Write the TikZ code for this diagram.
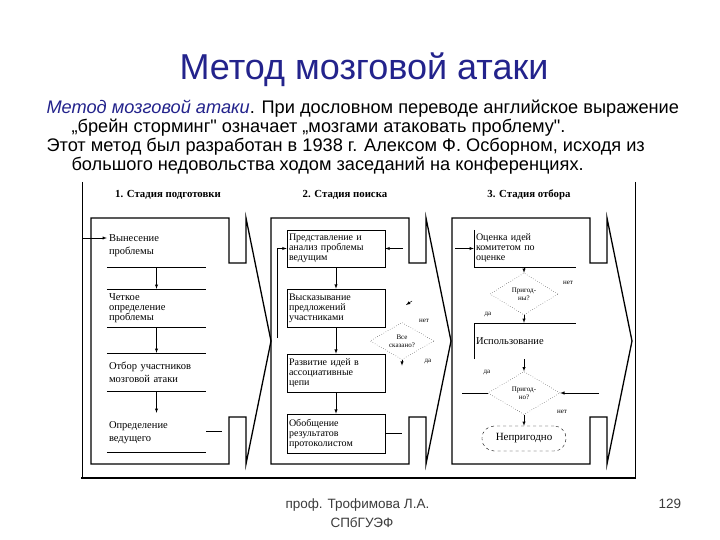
\documentclass[tikz,border=0pt]{standalone}
\usepackage{fontspec}
\setmainfont{Liberation Sans}
\newfontfamily\arial{Liberation Sans}
\newfontfamily\tms{Liberation Serif}
\usetikzlibrary{shapes.geometric}
\definecolor{titleblue}{RGB}{35,35,140}
\definecolor{footgray}{RGB}{60,60,60}

\begin{document}
\begin{tikzpicture}[x=1pt,y=-1pt,>=latex,
	item/.style={text width=95pt,inner xsep=2pt,inner ysep=0pt,align=left,font=\tms\fontsize{10.5}{11}\selectfont},
	box/.style={item,text width=94pt,draw,line width=.6pt,font=\tms\fontsize{10}{10}\selectfont},
	ask/.style={draw,dotted,diamond,aspect=1.7,inner sep=0pt,align=center,font=\tms\fontsize{7}{8}\selectfont},
	tag/.style={font=\tms\fontsize{7}{8}\selectfont},
	stage/.style={font=\tms\bfseries\fontsize{10.8}{12}\selectfont},
	link/.style={->,line width=.5pt}]
	\fill[white] (0,0) rectangle (720,540);
	\useasboundingbox (0,0) rectangle (720,540);
	\node[titleblue,anchor=base,font=\fontsize{36}{40}\selectfont] (title) at (364,80) {Метод мозговой атаки};
	\path[font=\arial\fontsize{18.2}{22}\selectfont]
		(43,114) node[anchor=base west] (l1) {\textcolor{titleblue}{\itshape Метод мозговой атаки}. При дословном переводе английское выражение}
		(68,133) node[anchor=base west] (l2) {„брейн сторминг" означает „мозгами атаковать проблему".}
		(43,152) node[anchor=base west] (l3) {Этот метод был разработан в 1938 г. Алексом Ф. Осборном, исходя из}
		(68,171) node[anchor=base west] (l4) {большого недовольства ходом заседаний на конференциях.}
	;
	\path[footgray,font=\fontsize{13.5}{16}\selectfont]
		(282,508) node[anchor=base west] (auth) {проф. Трофимова Л.А.}
		(327,527) node[anchor=base west] (univ) {СПбГУЭФ}
		(655,508) node[anchor=base west] (page) {129}
	;
	\draw[line width=.6pt] (82,182) -- (82,478) (635,182) -- (635,478);
	\draw[line width=2.2pt] (81,478) -- (636,478);
	\foreach \L in {91,271,452}
		\draw[line width=1.3pt] (\L,218) -- ++(138,0) -- ++(0,45) -- ++(17,0) -- ++(0,-45) -- ++(25,123) -- ++(-25,123) -- ++(0,-47) -- ++(-17,0) -- ++(0,47) -- (\L,464) -- cycle;
	\path
		(168,195) node[stage] (st1) {1. Стадия подготовки}
		(345,195) node[stage] (st2) {2. Стадия поиска}
		(529,195) node[stage] (st3) {3. Стадия отбора}
	;
	\node[item,minimum height=42pt] (vyn) at (156.5,246) {Вынесение\\[2pt]проблемы};
	\node[item,minimum height=38pt] (chet) at (156.5,308) {Четкое\\[-1pt]определение\\[-1pt]проблемы};
	\node[item,minimum height=38pt] (otb) at (156.5,372) {Отбор участников\\[2pt]мозговой атаки};
	\node[item,minimum height=39pt] (opr) at (156.5,432.5) {Определение\\[2pt]ведущего};
	\draw[line width=.6pt]
		(vyn.south west) -- (vyn.south east)
		(chet.north west) -- (chet.north east)
		(chet.south west) -- (chet.south east)
		(otb.north west) -- (otb.north east)
		(otb.south west) -- (otb.south east)
		(opr.south west) -- (opr.south east)
	;
	\draw[link] (vyn) -- (chet);
	\draw[link] (chet) -- (otb);
	\draw[link] (otb) -- (opr);
	\coordinate (in1) at (82,238);
	\draw[link] (in1) -- (in1 -| vyn.west);
	\coordinate (s1) at (222,431);
	\draw[line width=.6pt] (opr.east |- s1) -- (s1);
	\node[box,minimum height=37pt] (pred) at (336,248.5) {Представление и\\анализ проблемы\\ведущим};
	\node[box,minimum height=38pt] (vysk) at (336,308) {Высказывание\\предложений\\участниками};
	\node[box,minimum height=38pt] (razv) at (336,373) {Развитие идей в\\ассоциативные\\цепи};
	\node[box,minimum height=39pt] (obob) at (336,433.5) {Обобщение\\результатов\\протоколистом};
	\draw[link] (pred) -- (vysk);
	\draw[link] (vysk) -- (razv);
	\draw[link] (razv) -- (obob);
	\coordinate (lp) at (277,338);
	\draw[link] (lp) |- (pred.west);
	\coordinate (in2) at (403,248.5);
	\draw[link] (in2) -- (pred.east);
	\coordinate (s2) at (402,433.5);
	\draw[line width=.6pt] (obob.east) -- (s2);
	\node[ask,minimum width=64pt,minimum height=37pt] (vse) at (402,341) {Все\\сказано?};
	\coordinate (nt) at (412,301);
	\draw[link] (nt) -- ++(-6,4);
	\draw[link] (vse.south) -- ++(0,6);
	\node[tag] at (424,321) {нет};
	\node[tag] at (428,362) {да};
	\node[item,text width=98pt,minimum height=37pt,font=\tms\fontsize{10}{10}\selectfont] (ocen) at (525,248.5) {Оценка идей\\комитетом по\\оценке};
	\draw[line width=.6pt] (ocen.north west) -- (ocen.south west) -- (ocen.south east);
	\coordinate (in3) at (455,248.5);
	\draw[link] (in3) -- (ocen.west);
	\node[ask,minimum width=68pt,minimum height=42pt] (prig) at (524,294) {Пригод-\\ны?};
	\draw[link] (prig.north |- ocen.south) -- (prig.north);
	\node[tag] at (568,283) {нет};
	\node[tag] at (488,315) {да};
	\node[item,text width=98pt,minimum height=36pt,font=\tms\fontsize{10.5}{12}\selectfont] (isp) at (525,341) {Использование\\[10pt]};
	\draw[line width=.6pt] (isp.south west) -- (isp.north west) -- (isp.north east);
	\draw[link] (prig.south) -- (prig.south |- isp.north);
	\node[ask,minimum width=72pt,minimum height=43pt] (nuzh) at (524,393) {Пригод-\\но?};
	\draw[link] (nuzh.north |- isp.south) -- (nuzh.north);
	\coordinate (l3) at (462,393);
	\draw[line width=.6pt] (l3) -- (nuzh.west);
	\coordinate (r3) at (599,393);
	\draw[link] (r3) -- (nuzh.east);
	\node[tag] at (487,373) {да};
	\node[tag] at (562,412) {нет};
	\node[draw,dashed,rounded corners=12pt,minimum width=84pt,minimum height=25pt,font=\tms\fontsize{11}{12}\selectfont] (neg) at (524,438.5) {Непригодно};
	\draw[link] (nuzh.south) -- (nuzh.south |- neg.north);
\end{tikzpicture}
\end{document}
